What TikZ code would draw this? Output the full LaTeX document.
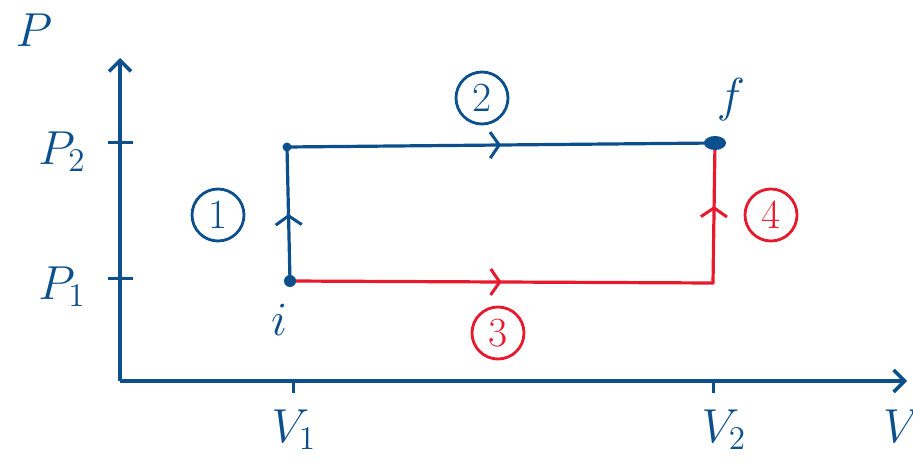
\documentclass[tikz,border=0pt]{standalone}
\usepackage{amsmath}
\usepackage{xcolor}
\usepackage{tikz}
\usetikzlibrary{arrows.meta,decorations.markings,shapes.geometric}
\definecolor{penblue}{HTML}{0B4F8C}
\definecolor{penred}{HTML}{E8192C}

\begin{document}
\begin{tikzpicture}[
  x=1pt, y=-1pt,
  every node/.style={align=center,text=penblue},
  big/.style={font=\huge,scale=2.3},
  axis/.style={-{Straight Barb[length=11pt,width=22pt]},line width=3.5pt,penblue},
  tick/.style={line width=3pt,penblue},
  path/.style={line width=3.2pt,line cap=round,line join=round},
  mid/.style={postaction={decorate},decoration={markings,
     mark=at position #1 with {\arrow{Straight Barb[length=9pt,width=26pt,line width=3pt]}}}},
  num/.style={circle,draw,line width=2.8pt,minimum size=26pt,inner sep=0pt,
              font=\huge,scale=2.0},
  dot/.style={circle,fill=penblue,minimum size=12pt,inner sep=0pt}
]
\useasboundingbox (0,0) rectangle (913,468);

% axes
\coordinate (o) at (120,381);
\coordinate (ytop) at (120,58);
\coordinate (xend) at (907,381);
\draw[axis] (o) -- (ytop);
\draw[axis] (o) -- (xend);

% ticks
\draw[tick] (108,143) -- (133,143);
\draw[tick] (108,278) -- (133,278);
\draw[tick] (293,381) -- (293,393);
\draw[tick] (713,381) -- (713,393);

% axis labels
\node[big] (lp) at (34,30) {$P$};
\node[big] (lp2) at (62,152) {$P_2$};
\node[big] (lp1) at (62,287) {$P_1$};
\node[big] (lv1) at (294,430) {$V_1$};
\node[big] (lv2) at (724,430) {$V_2$};
\node[big] (lv) at (902,426) {$V$};

% states
\coordinate (i) at (290,281);
\coordinate (c) at (287,147);
\coordinate (f) at (715,143);
\coordinate (r) at (713,283);

% blue path: 1 then 2
\draw[path,penblue,mid=0.5] (i) -- (c);
\draw[path,penblue,mid=0.5] (c) -- (f);
% red path: 3 then 4
\draw[path,penred,mid=0.5] (i) -- (r);
\draw[path,penred,mid=0.55] (r) -- (f);

\node[dot] (di) at (i) {};
\node[dot,minimum size=9pt] (dc) at (c) {};
\node[dot,ellipse,minimum width=22pt,minimum height=14pt] (df) at (f) {};

\node[big] (li) at (279,320) {$i$};
\node[big] (lf) at (731,100) {$f$};

% step numbers
\node[num,draw=penblue] (n1) at (218,215) {1};
\node[num,draw=penblue] (n2) at (482,98) {2};
\node[num,draw=penred,text=penred] (n3) at (498,333) {3};
\node[num,draw=penred,text=penred] (n4) at (771,215) {4};
\end{tikzpicture}
\end{document}
